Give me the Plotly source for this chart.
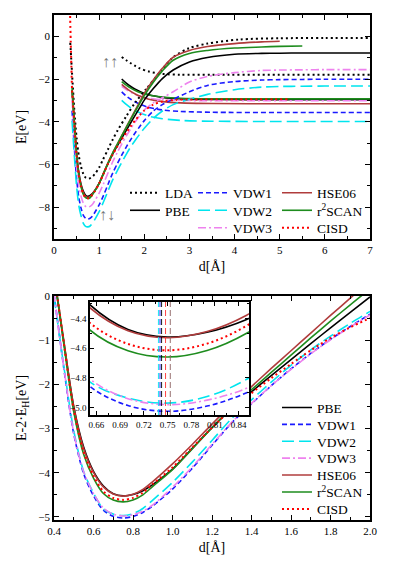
import plotly.graph_objects as go

# ---------------- top panel: E(d) ----------------
d_top = [0.40, 0.42, 0.45, 0.50, 0.55, 0.60, 0.65, 0.70, 0.75, 0.80, 0.85, 0.90,
         1.00, 1.10, 1.20, 1.30, 1.40, 1.50, 1.60, 1.70, 1.80, 1.90, 2.00,
         2.20, 2.40, 2.64, 3.00, 3.40, 4.00, 4.60, 5.00, 5.50, 6.00, 7.00]

top_pbe = [-2.52, -3.12, -4.02, -5.47, -6.39, -6.94, -7.27, -7.45, -7.50, -7.46, -7.37, -7.24,
           -6.89, -6.42, -5.95, -5.52, -5.14, -4.77, -4.41, -4.05, -3.69, -3.34, -2.99,
           -2.45, -1.98, -1.58, -1.20, -0.99, -0.84, -0.80, -0.79, -0.78, -0.78, -0.78]
top_vdw1 = [-3.49, -4.16, -5.19, -6.66, -7.56, -8.06, -8.39, -8.53, -8.565, -8.525, -8.43, -8.27,
            -7.90, -7.44, -6.92, -6.41, -5.98, -5.57, -5.19, -4.84, -4.52, -4.23, -3.95,
            -3.50, -3.20, -2.95, -2.60, -2.30, -2.12, -2.05, -2.03, -2.02, -2.01, -2.01]
top_vdw2 = [-3.96, -4.61, -5.56, -7.01, -7.93, -8.42, -8.77, -8.91, -8.93, -8.89, -8.76, -8.60,
            -8.22, -7.74, -7.23, -6.73, -6.31, -5.91, -5.53, -5.18, -4.87, -4.58, -4.31,
            -3.85, -3.50, -3.20, -2.95, -2.72, -2.50, -2.38, -2.35, -2.34, -2.33, -2.33]
top_vdw3 = [-2.97, -3.68, -4.65, -6.12, -7.00, -7.50, -7.82, -7.97, -8.00, -7.97, -7.88, -7.72,
            -7.35, -6.89, -6.38, -5.88, -5.45, -5.05, -4.68, -4.33, -4.01, -3.72, -3.45,
            -3.12, -2.88, -2.60, -2.14, -1.88, -1.70, -1.60, -1.58, -1.57, -1.56, -1.56]
top_hse = [-2.52, -3.12, -4.04, -5.54, -6.47, -7.01, -7.34, -7.51, -7.55, -7.50, -7.39, -7.25,
           -6.88, -6.40, -5.92, -5.48, -5.07, -4.66, -4.26, -3.86, -3.46, -3.07, -2.67,
           -2.05, -1.50, -0.98, -0.66, -0.48, -0.34, -0.26, -0.23, None, None, None]
top_r2scan = [-2.42, -3.06, -4.04, -5.56, -6.52, -7.06, -7.41, -7.565, -7.60, -7.565, -7.43, -7.27,
              -6.89, -6.41, -5.92, -5.46, -5.06, -4.67, -4.28, -3.89, -3.51, -3.14, -2.78,
              -2.15, -1.62, -1.12, -0.80, -0.66, -0.55, -0.50, -0.47, -0.45, None, None]

d_lda = [0.36, 0.38, 0.40, 0.45, 0.50, 0.55, 0.60, 0.65, 0.70, 0.77, 0.85, 0.90, 1.00, 1.08,
         1.20, 1.30, 1.42, 1.60, 1.80, 2.05, 2.30, 2.64, 3.00, 3.40, 4.10, 5.00, 6.00, 7.00]
top_lda = [-0.30, -1.00, -1.75, -3.45, -4.75, -5.60, -6.12, -6.45, -6.62, -6.67, -6.58, -6.47, -6.15, -5.80,
           -5.28, -4.84, -4.37, -3.75, -3.10, -2.45, -1.80, -0.98, -0.55, -0.34, -0.15, -0.09, -0.08, -0.08]

d_cisd = [0.355, 0.37, 0.385, 0.40, 0.42, 0.45, 0.50, 0.55, 0.60, 0.65, 0.70, 0.75, 0.80, 0.85, 0.90,
          1.00, 1.10, 1.20, 1.30, 1.40, 1.50, 1.60, 1.70, 1.80, 1.90, 2.00,
          2.20, 2.40, 2.70, 3.00, 4.00, 5.20]
top_cisd = [1.20, -0.20, -1.40, -2.50, -3.10, -4.06, -5.56, -6.51, -7.05, -7.40, -7.555, -7.595, -7.56, -7.42, -7.27,
            -6.90, -6.43, -5.96, -5.54, -5.18, -4.84, -4.52, -4.21, -3.93, -3.69, -3.48,
            -3.20, -3.05, -2.98, -2.96, -2.95, -2.95]

# triplet (spin-polarised) branches
d_trip = [1.5, 1.6, 1.7, 1.8, 1.9, 2.1, 2.4, 2.8, 3.5, 5.0, 7.0]
trip_lda = [-0.97, -1.12, -1.26, -1.39, -1.50, -1.65, -1.76, -1.80, -1.80, -1.80, -1.80]
trip_pbe = [-2.00, -2.19, -2.35, -2.48, -2.58, -2.74, -2.86, -2.93, -2.96, -2.97, -2.97]
trip_vdw1 = [-2.60, -2.80, -2.95, -3.08, -3.18, -3.33, -3.45, -3.52, -3.56, -3.57, -3.57]
trip_vdw2 = [-3.00, -3.19, -3.35, -3.48, -3.58, -3.74, -3.86, -3.94, -3.98, -3.99, -3.99]
trip_vdw3 = [-2.35, -2.50, -2.62, -2.72, -2.80, -2.90, -2.97, -3.00, -3.02, -3.02, -3.02]
trip_hse = [-2.25, -2.43, -2.58, -2.70, -2.80, -2.95, -3.06, -3.12, -3.15, -3.16, -3.16]
trip_r2scan = [-2.12, -2.29, -2.43, -2.54, -2.63, -2.75, -2.84, -2.90, -2.93, -2.93, -2.93]

# ---------------- bottom panel: E - 2 E_H ----------------
d_bot = [0.40, 0.42, 0.45, 0.50, 0.55, 0.60, 0.65, 0.70, 0.75, 0.80, 0.85, 0.90,
         1.00, 1.10, 1.20, 1.30, 1.40, 1.50, 1.60, 1.70, 1.80, 1.90, 2.00]
bot_pbe = [0.45, -0.15, -1.05, -2.50, -3.42, -3.97, -4.30, -4.475, -4.525, -4.493, -4.407, -4.268,
           -3.92, -3.45, -2.98, -2.55, -2.17, -1.80, -1.44, -1.08, -0.72, -0.37, -0.02]
bot_vdw1 = [0.05, -0.62, -1.65, -3.12, -4.02, -4.52, -4.85, -4.986, -5.025, -4.99, -4.90, -4.75,
            -4.37, -3.90, -3.38, -2.87, -2.44, -2.03, -1.65, -1.30, -0.98, -0.69, -0.41]
bot_vdw2 = [0.00, -0.65, -1.60, -3.05, -3.97, -4.46, -4.819, -4.936, -4.97, -4.926, -4.81, -4.62,
            -4.22, -3.76, -3.27, -2.77, -2.35, -1.95, -1.57, -1.22, -0.91, -0.62, -0.35]
bot_vdw3 = [0.05, -0.66, -1.63, -3.10, -3.98, -4.47, -4.80, -4.94, -4.98, -4.95, -4.87, -4.73,
            -4.33, -3.87, -3.36, -2.86, -2.43, -2.03, -1.66, -1.31, -0.99, -0.70, -0.43]
bot_hse = [0.50, -0.10, -1.02, -2.52, -3.45, -3.99, -4.32, -4.483, -4.53, -4.489, -4.379, -4.20,
           -3.80, -3.36, -2.90, -2.46, -2.05, -1.64, -1.24, -0.84, -0.44, -0.05, 0.35]
bot_r2scan = [0.52, -0.12, -1.10, -2.62, -3.58, -4.12, -4.47, -4.618, -4.66, -4.616, -4.50, -4.31,
              -3.93, -3.46, -2.98, -2.52, -2.12, -1.73, -1.34, -0.95, -0.57, -0.20, 0.16]
bot_cisd = [0.48, -0.12, -1.08, -2.58, -3.53, -4.07, -4.422, -4.572, -4.615, -4.57, -4.45, -4.255,
            -3.88, -3.43, -2.98, -2.56, -2.20, -1.86, -1.54, -1.23, -0.95, -0.71, -0.50]

# equilibrium distances marked in the inset
eq_d = [0.7385, 0.7405, 0.7425, 0.7475, 0.7535]
eq_colors = ["#00e5ee", "#1a1aff", "#000000", "#ff3030", "#8c6060"]

SERIF = "Liberation Serif, DejaVu Serif, serif"

styles = {
    "LDA": dict(color="#000000", dash="2px,3px", width=2),
    "PBE": dict(color="#000000", dash="solid", width=1.6),
    "VDW1": dict(color="#1a1aff", dash="5px,3px", width=1.6),
    "VDW2": dict(color="#00e5ee", dash="12px,5px", width=1.6),
    "VDW3": dict(color="#ee82ee", dash="8px,3px,2px,3px", width=1.6),
    "HSE06": dict(color="#b03c3c", dash="solid", width=1.6),
    "r2SCAN": dict(color="#1e8c1e", dash="solid", width=1.6),
    "CISD": dict(color="#ff0000", dash="2px,3px", width=2),
}
labels = {"r2SCAN": "r<sup>2</sup>SCAN"}

# legend placement (page pixels): each entry gets its own legend box
W, H, ML, MR, MT, MB = 388, 557, 46, 26, 7, 45
PW, PH = W - ML - MR, H - MT - MB


def px_to_paper(px, py):
    # page is offset by the 8px body margin
    return (px - 8 - ML) / PW, (H - MB - (py - 8)) / PH


top_leg_pos = {
    "LDA": (125, 193), "PBE": (125, 210.5),
    "VDW1": (193, 193), "VDW2": (193, 210.5), "VDW3": (193, 228),
    "HSE06": (277, 193), "r2SCAN": (277, 210.5), "CISD": (277, 228),
}
bot_order = ["PBE", "VDW1", "VDW2", "VDW3", "HSE06", "r2SCAN", "CISD"]

fig = go.Figure()

top_singlet = [
    ("LDA", d_lda, top_lda), ("PBE", d_top, top_pbe), ("VDW1", d_top, top_vdw1),
    ("VDW2", d_top, top_vdw2), ("VDW3", d_top, top_vdw3), ("HSE06", d_top, top_hse),
    ("r2SCAN", d_top, top_r2scan), ("CISD", d_cisd, top_cisd),
]
top_triplet = [
    ("LDA", trip_lda), ("PBE", trip_pbe), ("VDW1", trip_vdw1), ("VDW2", trip_vdw2),
    ("VDW3", trip_vdw3), ("HSE06", trip_hse), ("r2SCAN", trip_r2scan),
]

legends = {}
n_leg = 0


def new_legend(px, py):
    global n_leg
    n_leg += 1
    key = "legend" if n_leg == 1 else f"legend{n_leg}"
    x, y = px_to_paper(px, py)
    legends[key] = dict(x=x, y=y, xanchor="left", yanchor="middle", bgcolor="rgba(0,0,0,0)",
                        font=dict(family=SERIF, size=13.5, color="black"), itemwidth=30)
    return key


for name, trip in top_triplet:
    fig.add_trace(go.Scatter(
        x=d_trip, y=trip, mode="lines", line=dict(**styles[name], shape="spline", smoothing=0.8),
        showlegend=False, hoverinfo="skip", xaxis="x", yaxis="y",
    ))
for name, dx, ey in top_singlet:
    fig.add_trace(go.Scatter(
        x=dx, y=ey, mode="lines", line=dict(**styles[name], shape="spline", smoothing=0.8),
        name=labels.get(name, name), legend=new_legend(*top_leg_pos[name]), xaxis="x", yaxis="y",
    ))

bottom = [
    ("PBE", bot_pbe), ("VDW1", bot_vdw1), ("VDW2", bot_vdw2), ("VDW3", bot_vdw3),
    ("HSE06", bot_hse), ("r2SCAN", bot_r2scan), ("CISD", bot_cisd),
]
for name, ey in bottom:
    row = bot_order.index(name)
    fig.add_trace(go.Scatter(
        x=d_bot, y=ey, mode="lines", line=dict(**styles[name], shape="spline", smoothing=0.8),
        name=labels.get(name, name), legend=new_legend(277, 407.7 + 16.9 * row),
        xaxis="x2", yaxis="y2",
    ))

# inset: zoom on the minimum
for xv, col in zip(eq_d, eq_colors):
    fig.add_shape(type="line", xref="x3", yref="y3 domain", x0=xv, x1=xv, y0=0, y1=1,
                  line=dict(color=col, width=0.9, dash="6px,3px"), layer="above")
for name, ey in bottom:
    fig.add_trace(go.Scatter(
        x=d_bot, y=ey, mode="lines", line=dict(**styles[name], shape="spline", smoothing=1),
        showlegend=False, hoverinfo="skip", xaxis="x3", yaxis="y3",
    ))

fig.add_annotation(x=1.23, y=-1.19, xref="x", yref="y", text="\u2191\u2191", showarrow=False,
                   font=dict(family=SERIF, size=16, color="#777777"))
fig.add_annotation(x=1.17, y=-8.33, xref="x", yref="y", text="\u2191\u2193", showarrow=False,
                   font=dict(family=SERIF, size=16, color="#777777"))

axis_common = dict(
    showline=True, linecolor="black", linewidth=1.5, mirror="allticks",
    ticks="inside", ticklen=5, tickwidth=1, tickcolor="black",
    showgrid=False, zeroline=False,
    tickfont=dict(family=SERIF, size=11, color="black"),
)
inset_axis = {**axis_common, "tickfont": dict(family=SERIF, size=9, color="black"), "ticklen": 4}
title_font = dict(family=SERIF, size=14, color="black")

fig.update_layout(
    width=W, height=H,
    paper_bgcolor="white", plot_bgcolor="white",
    margin=dict(l=ML, r=MR, t=MT, b=MB, autoexpand=False),
    font=dict(family=SERIF, color="black"),
    xaxis=dict(**axis_common, domain=[0, 1], anchor="y", range=[0, 7], tick0=0, dtick=1,
               minor=dict(dtick=0.5, ticklen=3, ticks="inside", tickcolor="black"),
               title=dict(text="d[\u00c5]", font=title_font, standoff=6)),
    yaxis=dict(**axis_common, domain=[0.5564, 1], anchor="x", range=[-9.5, 1], tick0=0, dtick=2,
               minor=dict(dtick=1, ticklen=3, ticks="inside", tickcolor="black"),
               title=dict(text="E[eV]", font=title_font, standoff=8)),
    xaxis2=dict(**axis_common, domain=[0, 1], anchor="y2", range=[0.4, 2.0], tick0=0.4, dtick=0.2,
                tickformat=".1f",
                minor=dict(dtick=0.1, ticklen=3, ticks="inside", tickcolor="black"),
                title=dict(text="d[\u00c5]", font=title_font, standoff=6)),
    yaxis2=dict(**axis_common, domain=[0, 0.4436], anchor="x2", range=[-5.07, 0], tick0=0, dtick=1,
                minor=dict(dtick=0.5, ticklen=3, ticks="inside", tickcolor="black"),
                title=dict(text="E-2\u00b7E<sub>H</sub>[eV]", font=title_font, standoff=8)),
    xaxis3=dict(**inset_axis, domain=[0.1139, 0.6171], anchor="y3", range=[0.652, 0.853],
                tick0=0.66, dtick=0.03, tickformat=".2f",
                minor=dict(dtick=0.015, ticklen=2, ticks="inside", tickcolor="black")),
    yaxis3=dict(**inset_axis, domain=[0.2079, 0.4317], anchor="x3", range=[-5.05, -4.29],
                tick0=-5.0, dtick=0.2, tickformat=".1f",
                minor=dict(dtick=0.1, ticklen=2, ticks="inside", tickcolor="black")),
    **legends,
)

fig.write_html("out.html")
